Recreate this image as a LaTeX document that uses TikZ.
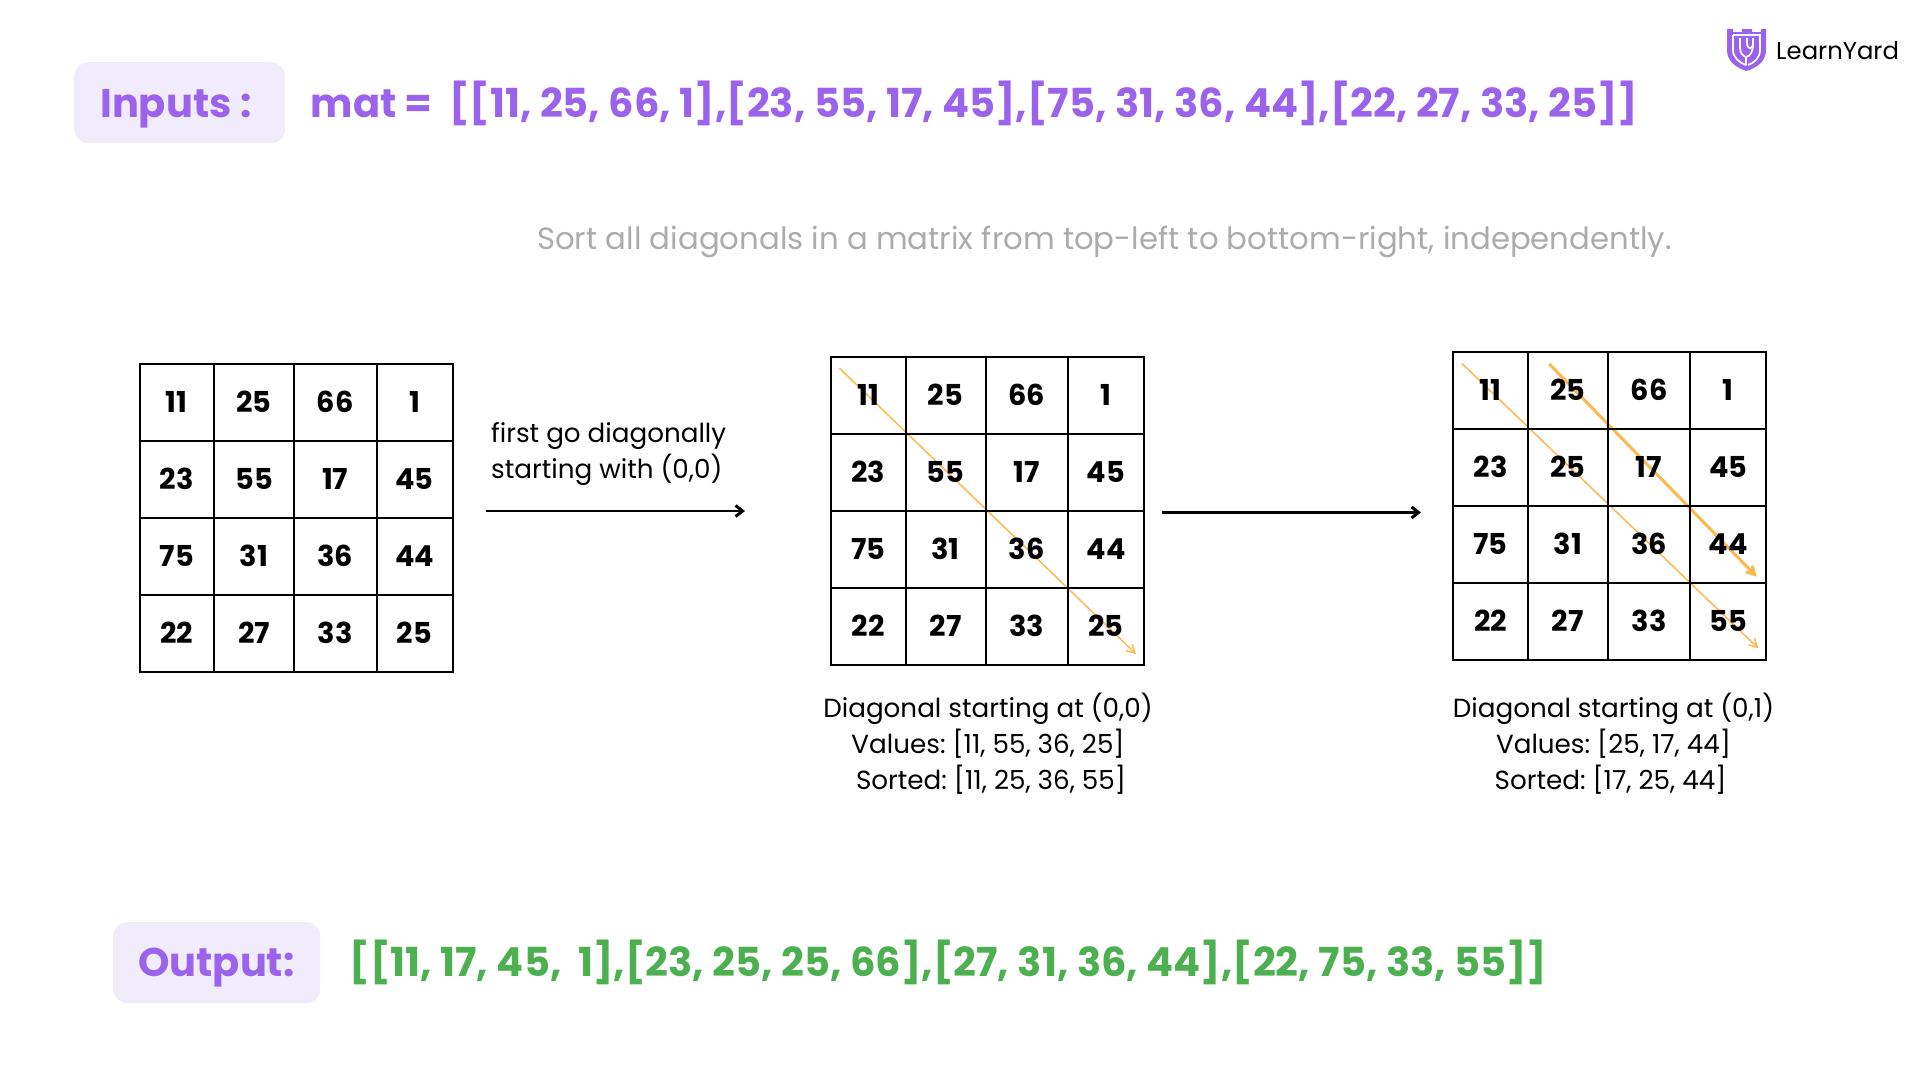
\documentclass[tikz,border=0pt]{standalone}
\usepackage{fontspec}
\setmainfont{Poppins}
\usetikzlibrary{arrows.meta,backgrounds,positioning}
\definecolor{purp}{HTML}{9B63EC}
\definecolor{lilac}{HTML}{F1ECFC}
\definecolor{grn}{HTML}{4CB050}
\definecolor{orng}{HTML}{FFB84D}
\definecolor{greytxt}{HTML}{ABABAB}
\tikzset{
  x=1pt, y=-1pt,
  tag/.style={fill=lilac, rounded corners=14pt, inner sep=0pt, anchor=north west},
  headtxt/.style={font=\fontsize{40}{48}\selectfont\bfseries, anchor=base west, inner sep=0pt},
  cell/.style={draw, line width=2pt, minimum height=77pt, inner sep=0pt, font=\fontsize{28.8}{34}\selectfont\bfseries},
  note/.style={font=\fontsize{26.2}{36}\selectfont\frenchspacing, inner sep=0pt, align=center},
  step arrow/.style={-{Straight Barb[length=7pt,width=11pt,line width=3pt]}, line width=2.6pt},
  diag/.style={orng, -{Straight Barb[length=8pt,width=9pt]}, line width=1.5pt},
  logoline/.style={white, line width=1.7pt}
}
\newcommand\matgrid[4]{% name, left, top, values
  \foreach \val [count=\i from 0] in {#4} {
    \pgfmathsetmacro\cx{{37.25,114.5,195.75,275}[mod(\i,4)]}
    \pgfmathsetmacro\cw{{74.5,80,82.5,76}[mod(\i,4)]}
    \pgfmathsetmacro\cy{38.5+77*floor(\i/4)}
    \node (#1\i) [cell, minimum width=\cw pt] at (#2+\cx,#3+\cy) {\val};
  }
}

\begin{document}
\begin{tikzpicture}
\useasboundingbox (0,0) rectangle (1920,1080);

\node (inbox) [tag, minimum width=211pt, minimum height=81pt] at (74,62) {};
\node (intxt) [headtxt, text=purp] at (100,117) {Inputs :};
\node (mattxt) [headtxt, text=purp] at (310.5,117) {mat =};
\node (matval) [headtxt, text=purp] at (449,117) {[[11, 25, 66, 1],[23, 55, 17, 45],[75, 31, 36, 44],[22, 27, 33, 25]]};

\node (title) [font=\fontsize{30.75}{38}\selectfont\frenchspacing, text=greytxt, anchor=base west, inner sep=0pt] at (537,249) {Sort all diagonals in a matrix from top-left to bottom-right, independently.};

% diagonals stay under the numbers
\coordinate (d1s) at (839.3,368);
\coordinate (d1e) at (1136,654);
\coordinate (d2s) at (1461.7,363.3);
\coordinate (d2e) at (1758.3,648.3);
\coordinate (d3s) at (1549.3,364);
\coordinate (d3e) at (1756.7,576.7);
\draw [diag] (d1s) -- (d1e);
\draw [diag] (d2s) -- (d2e);
\draw [diag, line width=3pt] (d3s) -- (d3e);

\matgrid{a}{139.5}{363.7}{11,25,66,1,23,55,17,45,75,31,36,44,22,27,33,25}
\matgrid{b}{831}{356.7}{11,25,66,1,23,55,17,45,75,31,36,44,22,27,33,25}
\matgrid{c}{1453.3}{351.7}{11,25,66,1,23,25,17,45,75,31,36,44,22,27,33,55}

\node (go) [note, align=left, anchor=base west] at (491,478) {first go diagonally\\starting with (0,0)};
\coordinate (g1) at (486,511);
\coordinate (g2) at (745,511);
\draw [step arrow] (g1) -- (g2);
\coordinate (h1) at (1162,512.5);
\coordinate (h2) at (1421,512.5);
\draw [step arrow] (h1) -- (h2);

\node (capb) [note, anchor=north] at (988,692.5) {Diagonal starting at (0,0)\\Values: [11, 55, 36, 25]\\\hspace*{6pt}Sorted: [11, 25, 36, 55]};
\node (capc) [note, anchor=north] at (1613.5,692.5) {Diagonal starting at (0,1)\\Values: [25, 17, 44]\hspace*{14pt}\\Sorted: [17, 25, 44]\hspace*{6pt}};

\node (outbox) [tag, minimum width=207pt, minimum height=81pt] at (113,922) {};
\node (outtxt) [headtxt, text=purp] at (138,976) {Output:};
\node (outval) [headtxt, text=grn] at (349.5,976) {[[11, 17, 45,\ \ 1],[23, 25, 25, 66],[27, 31, 36, 44],[22, 75, 33, 55]]};

% logo
\fill [purp] (1727,29) -- (1733,29) -- (1733,32) -- (1742,32) -- (1742,29) -- (1752,29) -- (1752,32) -- (1761,32) -- (1761,29) -- (1766,29) -- (1766,50) .. controls (1766,62) and (1756,68) .. (1746.5,71) .. controls (1737,68) and (1727,62) .. (1727,50) -- cycle;
\draw [logoline] (1733,35) -- (1761,35);
\draw [logoline] (1733,35) -- (1733,50) .. controls (1733,58) and (1740,63) .. (1746,65);
\draw [logoline] (1740,38) -- (1740,48) .. controls (1740,53) and (1743,56) .. (1746,57) -- (1746,65);
\draw [logoline] (1760,35) -- (1760,50) .. controls (1760,58) and (1754,63) .. (1748,65);
\draw [logoline] (1747,38) -- (1747,43) .. controls (1747,50) and (1753,50) .. (1753,43) -- (1753,38);
\draw [logoline] (1753,43) .. controls (1753,53) and (1750,56) .. (1746,57);
\node (brand) [font=\fontsize{24.3}{30}\selectfont, anchor=base west, inner sep=0pt] at (1776,59.5) {LearnYard};
\end{tikzpicture}
\end{document}
